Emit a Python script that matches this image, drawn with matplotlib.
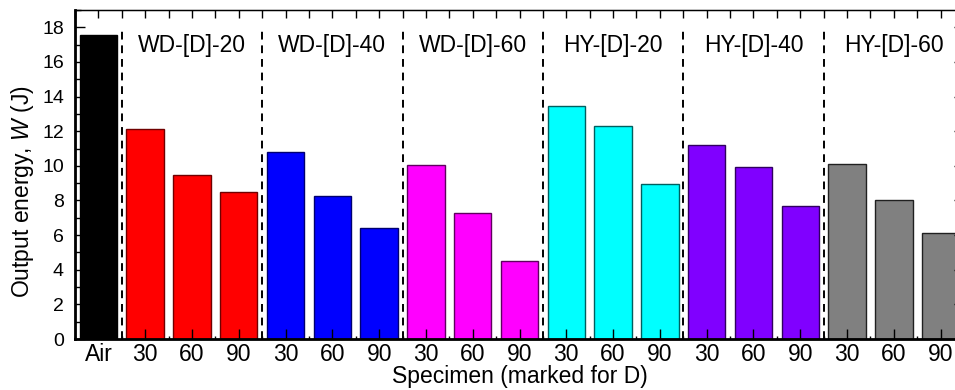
import numpy as np
import matplotlib
matplotlib.use('Agg')
from matplotlib import pyplot as plt
from matplotlib.ticker import MultipleLocator

plt.rcParams['font.family'] = ['Liberation Sans', 'DejaVu Sans']
plt.rcParams['mathtext.fontset'] = 'custom'
plt.rcParams['mathtext.it'] = 'Liberation Sans:italic'

groups = ['WD-[D]-20', 'WD-[D]-40', 'WD-[D]-60', 'HY-[D]-20', 'HY-[D]-40', 'HY-[D]-60']
depths = ['30', '60', '90']
air_value = 17.55
group_values = [
	[12.15, 9.5, 8.5],
	[10.78, 8.24, 6.4],
	[10.03, 7.27, 4.5],
	[13.44, 12.29, 8.97],
	[11.21, 9.94, 7.68],
	[10.11, 8.03, 6.12],
]
fills = ['#ff0000', '#0000ff', '#ff00ff', '#00ffff', '#8000ff', '#808080']
edges = ['#700000', '#000070', '#600060', '#006060', '#300060', '#202020']

fig = plt.figure(figsize=(9.55, 3.9), dpi=100)
ax = fig.add_axes([75/955, 51/390, 889/955, 329/390])

labels = ['Air']
ax.bar(0, air_value, width=0.8, color='black', edgecolor='black', linewidth=1)
for i, vals in enumerate(group_values):
	xs = np.arange(3) + 1 + 3*i
	ax.bar(xs, vals, width=0.8, color=fills[i], edgecolor=edges[i], linewidth=1)
	labels += depths
	ax.text(xs[1], 16.95, groups[i], ha='center', va='center', fontsize=16.5)
	ax.vlines(xs[0] - 0.5, 0, 17.8, colors='black', linestyles=(0, (4, 3)), linewidth=1.4)

ax.set_xlim(-0.5, 18.5)
ax.set_ylim(0, 19)
ax.set_xticks(np.arange(19))
ax.set_xticklabels(labels)
ax.xaxis.set_minor_locator(MultipleLocator(0.5))
ax.yaxis.set_major_locator(MultipleLocator(2))
ax.yaxis.set_minor_locator(MultipleLocator(1))
ax.tick_params(axis='both', which='both', direction='in', top=False, right=True, width=1)
ax.tick_params(axis='x', which='major', length=7, pad=3, labelsize=16.5)
ax.tick_params(axis='x', which='minor', length=2)
ax.tick_params(axis='y', which='major', length=7, pad=8, labelsize=14)
ax.tick_params(axis='y', which='minor', length=4)
for s in ['bottom', 'left']:
	ax.spines[s].set_linewidth(2)
for s in ['top', 'right']:
	ax.spines[s].set_linewidth(1)

# top ticks: all the same length, every half step
top = ax.twiny()
top.set_xlim(ax.get_xlim())
top.xaxis.set_major_locator(MultipleLocator(0.5))
top.tick_params(axis='x', direction='in', length=6, width=1, labeltop=False)

ax.set_ylabel('Output energy, $W$ (J)', fontsize=16.5)
ax.yaxis.label.set_va('center')
ax.yaxis.set_label_coords(-0.0585, 0.447)
ax.set_xlabel('Specimen (marked for D)', fontsize=16.5)
ax.xaxis.label.set_va('center')
ax.xaxis.set_label_coords(0.5, -0.1125)

fig.savefig('out.png', dpi=100)
